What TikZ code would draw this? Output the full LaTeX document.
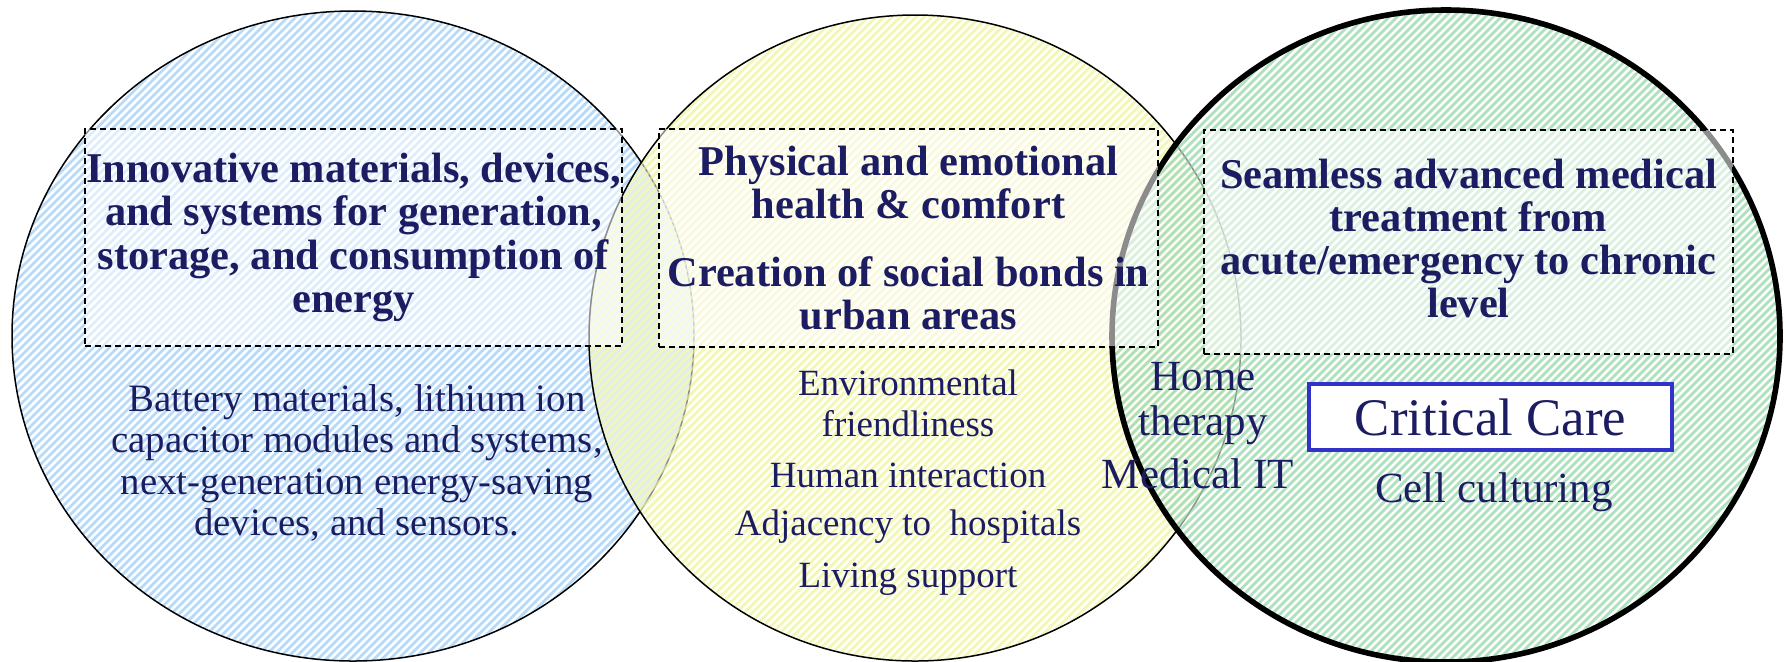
\documentclass[tikz,border=0pt]{standalone}
\usepackage{fontspec}
\setmainfont{Liberation Serif}
\usetikzlibrary{positioning}
\definecolor{navytext}{RGB}{28,28,98}
\definecolor{careblue}{RGB}{50,50,200}
\definecolor{stripeblue}{RGB}{140,195,245}
\definecolor{stripeyellow}{RGB}{236,242,135}
\definecolor{stripegreen}{RGB}{125,208,150}
\tikzset{
    headtext/.style={font=\bfseries\fontsize{21.2}{21.6}\selectfont, text=navytext, align=center},
    bodytext/.style={font=\fontsize{18.5}{20.5}\selectfont, text=navytext, align=center, inner sep=0pt},
    sidetext/.style={bodytext, font=\fontsize{21.5}{22.5}\selectfont},
    topicbox/.style={rectangle, draw=black, dash pattern=on 3pt off 2pt, line width=0.7pt, fill=white, fill opacity=0.55, text opacity=1, inner sep=0pt},
    carebox/.style={rectangle, draw=careblue, line width=2pt, fill=white, font=\fontsize{26.4}{28}\selectfont, text=navytext, minimum width=181.5pt, minimum height=33pt},
    ring/.style={draw=black, line width=0.75pt},
    thickring/.style={draw=black, line width=2.8pt}
}
% striped half-transparent ellipse: cx, cy, rx, ry, colour
\newcommand{\stripedarea}[5]{%
    \begin{scope}
        \fill[white, fill opacity=0.55] (#1,#2) ellipse [x radius=#3, y radius=#4];
        \clip (#1,#2) ellipse [x radius=#3, y radius=#4];
        \foreach \s in {-688,-680,...,688}
            \draw[#5, line width=1.4pt, opacity=0.62] (#1+\s-400,#2+400) -- (#1+\s+400,#2-400);
    \end{scope}
}
\begin{document}
\begin{tikzpicture}[x=0.5pt, y=-0.5pt]
    \useasboundingbox (0,0) rectangle (1786,661);

    % --- THREE FIELDS ---
    \stripedarea{353}{336}{341}{325}{stripeblue}
    \draw[ring] (353,336) ellipse [x radius=341, y radius=325];

    \stripedarea{915}{338}{326}{323}{stripeyellow}
    \draw[ring] (915,338) ellipse [x radius=326, y radius=323];

    \stripedarea{1446}{336}{334}{326}{stripegreen}
    \draw[thickring] (1446,336) ellipse [x radius=334, y radius=326];

    % --- TOPIC BOXES ---
    \node[topicbox, minimum width=268.5pt, minimum height=108.5pt] (energy) at (353.5,237.5) {};
    \node[headtext] at (energy.center) {Innovative materials, devices,\\and systems for generation,\\storage, and consumption of\\energy};

    \node[topicbox, minimum width=249.5pt, minimum height=109pt] (health) at (908.5,238) {};
    \node[headtext] at (health.center) {Physical and emotional\\health \& comfort\\[12.5pt]Creation of social bonds in\\urban areas};

    \node[topicbox, minimum width=264.5pt, minimum height=112pt] (medical) at (1468.5,242) {};
    \node[headtext] at (1468.5,238.5) {Seamless advanced medical\\treatment from\\acute/emergency to chronic\\level};

    % --- DETAILS ---
    \node[bodytext, font=\fontsize{19.4}{20.6}\selectfont] (battery) at (357,463) {Battery materials, lithium ion\\capacitor modules and systems,\\next-generation energy-saving\\devices, and sensors.};

    \node[bodytext] (envir) at (908,403) {Environmental\\friendliness};
    \node[bodytext] (human) at (908,475) {Human interaction};
    \node[bodytext] (adjac) at (908,527) {Adjacency to~ hospitals};
    \node[bodytext] (living) at (908,579) {Living support};

    \node[sidetext] (home) at (1203,404) {Home\\therapy};
    \node[sidetext] (medit) at (1198,474) {Medical IT};

    \node[carebox] (care) at (1490.5,417) {Critical Care};
    \node[sidetext] (cell) at (1494,492) {Cell culturing};

\end{tikzpicture}
\end{document}
